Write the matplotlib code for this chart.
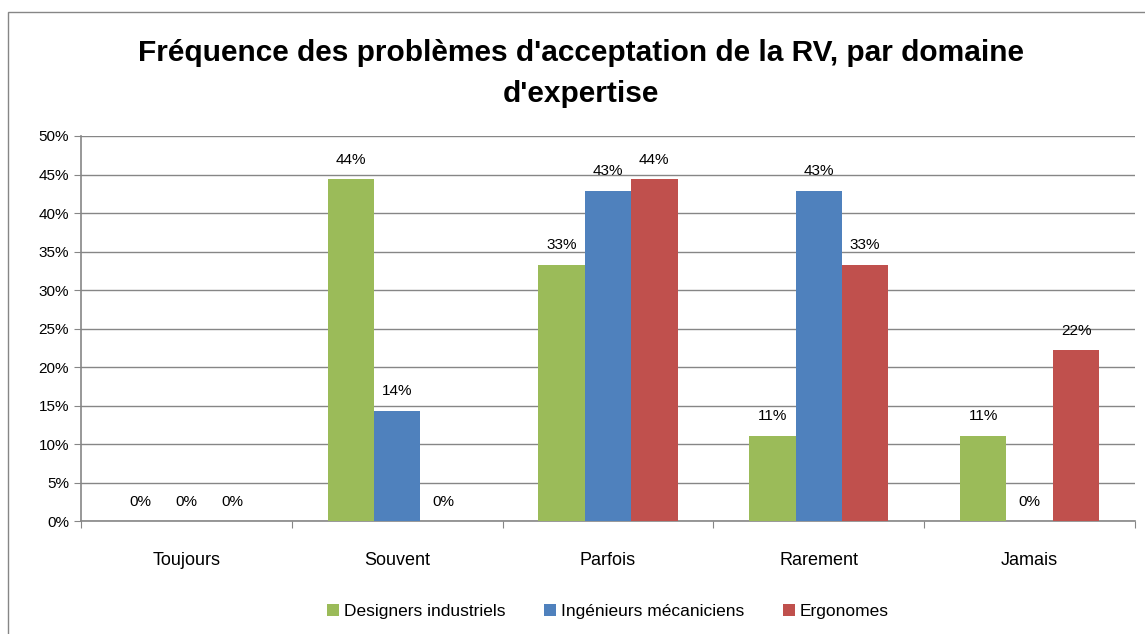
import numpy as np
import matplotlib.pyplot as plt
from matplotlib.patches import Rectangle
from matplotlib.ticker import FuncFormatter, MultipleLocator

plt.rcParams['font.family'] = ['Liberation Sans', 'DejaVu Sans']

# Data
categories = ['Toujours', 'Souvent', 'Parfois', 'Rarement', 'Jamais']
series_names = ['Designers industriels', 'Ingénieurs mécaniciens', 'Ergonomes']
designers = [0, 44.4, 33.3, 11.1, 11.1]
ingenieurs = [0, 14.3, 42.9, 42.9, 0]
ergonomes = [0, 0, 44.4, 33.3, 22.2]
colors = ['#9BBB59', '#4F81BD', '#C0504D']

fig = plt.figure(figsize=(11.45, 6.34), dpi=100)
ax = fig.add_axes([0.0707, 0.178, 0.9206, 0.6075])

# outer chart frame
fig.patches.append(Rectangle((8 / 1145, -0.05), 1.1, 1 - 12 / 634 + 0.05,
                             transform=fig.transFigure, fill=False,
                             edgecolor='#868686', linewidth=1))

x = np.arange(len(categories))
width = 0.22
for i, (vals, name, col) in enumerate(zip([designers, ingenieurs, ergonomes], series_names, colors)):
    bars = ax.bar(x + (i - 1) * width, vals, width, color=col, label=name, zorder=3)
    for b, v in zip(bars, vals):
        ax.annotate(f'{round(v):.0f}%', (b.get_x() + b.get_width() / 2, v),
                    xytext=(0, 9), textcoords='offset points',
                    ha='center', va='bottom', fontsize=11, color='#000000')

ax.set_xlim(-0.5, len(categories) - 0.5)
ax.set_ylim(0, 50)
ax.yaxis.set_major_locator(MultipleLocator(5))
ax.yaxis.set_major_formatter(FuncFormatter(lambda v, p: f'{v:.0f}%'))
ax.grid(axis='y', color='#868686', linewidth=1, zorder=0)

ax.set_xticks(np.arange(-0.5, len(categories)), minor=False)
ax.set_xticklabels([])
ax.set_xticks(x, minor=True)
ax.set_xticklabels(categories, minor=True, fontsize=13)
ax.tick_params(axis='x', which='major', length=5, color='#868686')
ax.tick_params(axis='x', which='minor', length=0, pad=22)
ax.tick_params(axis='y', length=5, color='#868686', labelsize=11)

for side in ['top', 'right']:
    ax.spines[side].set_visible(False)
for side in ['left', 'bottom']:
    ax.spines[side].set_color('#868686')
    ax.spines[side].set_linewidth(1.2)

fig.text(0.507, 0.884, "Fréquence des problèmes d'acceptation de la RV, par domaine\nd'expertise",
         ha='center', va='center', fontsize=21.5, fontweight='bold', linespacing=1.6)

ax.legend(loc='center', bbox_to_anchor=(0.5, -0.235), ncol=3, frameon=False,
          fontsize=12.5, handlelength=0.7, handleheight=0.7, handletextpad=0.3,
          columnspacing=2.2)

fig.savefig('out.png', dpi=100)
